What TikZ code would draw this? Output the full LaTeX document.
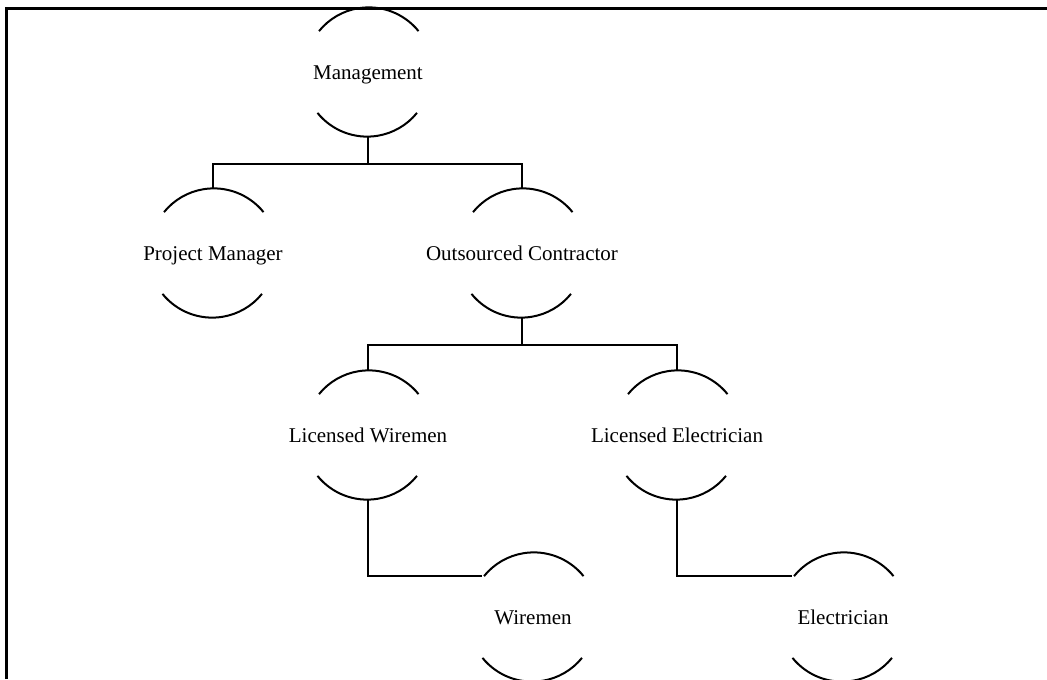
\documentclass[tikz,border=0pt]{standalone}
\usepackage{fontspec}
\setmainfont{Liberation Serif}
\usetikzlibrary{positioning}

\begin{document}
\begin{tikzpicture}[x=0.75pt,y=-0.75pt,
		font=\fontsize{15.75}{18}\selectfont,
		line width=1.5pt,
		every label/.style={text height=1.6ex, text depth=0.4ex, inner sep=0pt, yshift=-3pt},
		unit/.style={circle, minimum size=\D pt, inner sep=0pt}]
					\pgfmathsetmacro{\R}{48}
					\pgfmathsetmacro{\D}{2*\R}
					\pgfmathsetmacro{\Drop}{27}
					\useasboundingbox (0,0) rectangle (1047,679);
					% FRAME
					\draw[line width=2.25pt] (6.5,679) -- (6.5,8.5) -- (1047,8.5);
					% UNITS
					\node[unit, label={center:Management}] (mgmt) at (368,72) {};
					\node[unit, label={center:Project Manager}] (pm) at (213,253) {};
					\node[unit, label={center:Outsourced Contractor}] (oc) at (522,253) {};
					\node[unit, label={center:Licensed Wiremen}] (lw) at (368,435) {};
					\node[unit, label={center:Licensed Electrician}] (le) at (677,435) {};
					\node[unit, label={center:Wiremen}] (wm) at (533,617) {};
					\node[unit, label={center:Electrician}] (el) at (843,617) {};
					\foreach \n in {mgmt,pm,oc,lw,le,wm,el} {
						\draw (\n.39) arc[start angle=39, end angle=141, radius=\R pt];
						\draw (\n.219) arc[start angle=219, end angle=321, radius=\R pt];
					}
					% LINKS
					\draw (mgmt.south) -- ++(0,\Drop) coordinate (busA) -| (pm.north);
					\draw (busA) -| (oc.north);
					\draw (oc.south) -- ++(0,\Drop) coordinate (busB) -| (lw.north);
					\draw (busB) -| (le.north);
					\draw (lw.south) |- (wm.141);
					\draw (le.south) |- (el.141);
				\end{tikzpicture}
\end{document}
